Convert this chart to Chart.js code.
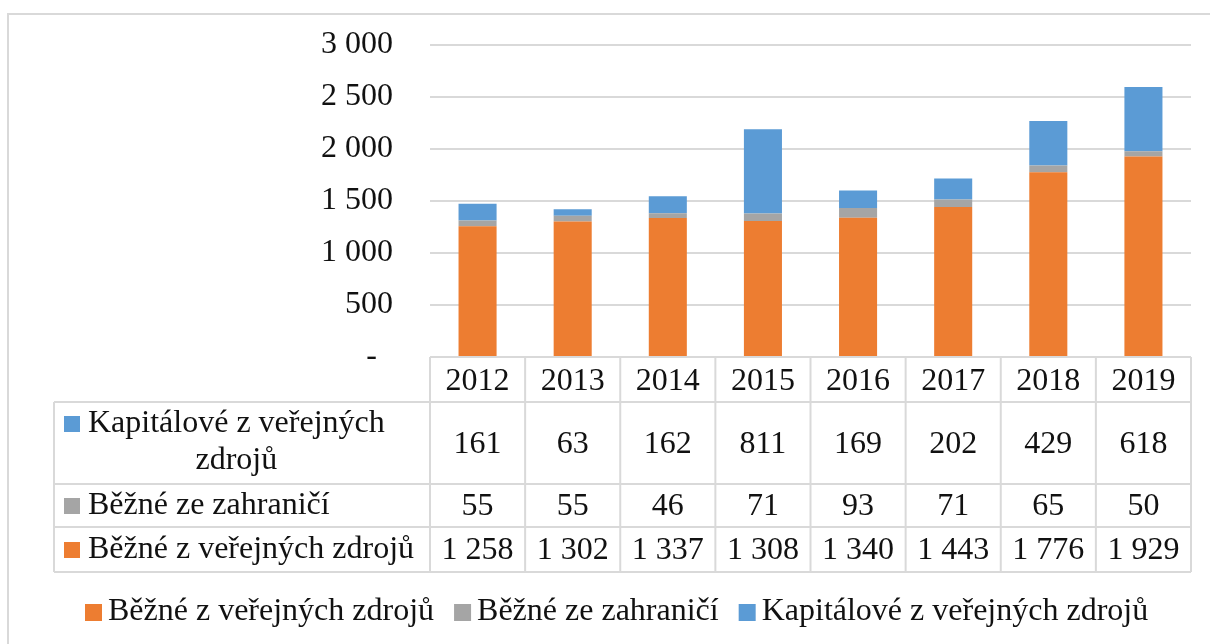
<!DOCTYPE html>
<html>
<head>
<meta charset="utf-8">
<script src="https://cdn.jsdelivr.net/npm/chart.js@4.4.0/dist/chart.umd.min.js"></script>
<style>
  body { margin: 0; background: #fff; }
  #wrap { width: 1210px; height: 644px; }
</style>
</head>
<body>
<div id="wrap"><canvas id="fundingChart" width="1210" height="644"></canvas></div>
<script>
const years = ['2012', '2013', '2014', '2015', '2016', '2017', '2018', '2019'];
const bezneVerejne = [1258, 1302, 1337, 1308, 1340, 1443, 1776, 1929];
const bezneZahranici = [55, 55, 46, 71, 93, 71, 65, 50];
const kapitalove = [161, 63, 162, 811, 169, 202, 429, 618];
const seriesLabels = ['Běžné z veřejných zdrojů', 'Běžné ze zahraničí', 'Kapitálové z veřejných zdrojů'];
const seriesColors = ['#ED7D31', '#A5A5A5', '#5B9BD5'];

const FONT_FAMILY = "'Liberation Serif', 'Times New Roman', serif";
const TEXT_COLOR = '#111';
const LINE_COLOR = '#d9d9d9';

// 1258 -> "1 258", 0 -> "-"
function fmt(n) {
    if (n === 0) return '-  ';
    return String(n).replace(/\B(?=(\d{3})+(?!\d))/g, ' ');
}

// wrap text into lines no wider than maxW
function wrapText(ctx, text, maxW) {
    const words = text.split(' ');
    const lines = [];
    let cur = '';
    words.forEach(w => {
        const test = cur ? cur + ' ' + w : w;
        if (ctx.measureText(test).width > maxW && cur) {
            lines.push(cur);
            cur = w;
        } else {
            cur = test;
        }
    });
    if (cur) lines.push(cur);
    return lines;
}

const tablePlugin = {
    id: 'dataTable',
    afterDraw(chart) {
        const ctx = chart.ctx;
        const xScale = chart.scales.x;
        const area = chart.chartArea;
        const colW = (area.right - area.left) / years.length;
        const tableLeft = 54;
        const headerTop = area.bottom;
        const rowLines = [402, 484, 527, 572];

        ctx.save();

        // outer frame
        ctx.strokeStyle = LINE_COLOR;
        ctx.lineWidth = 2;
        ctx.beginPath();
        ctx.moveTo(8, 644);
        ctx.lineTo(8, 14);
        ctx.lineTo(1210, 14);
        ctx.stroke();

        // table grid
        ctx.beginPath();
        ctx.moveTo(area.left, headerTop);
        ctx.lineTo(area.right, headerTop);
        rowLines.forEach(y => {
            ctx.moveTo(tableLeft, y);
            ctx.lineTo(area.right, y);
        });
        for (let k = 0; k <= years.length; k++) {
            const x = area.left + k * colW;
            ctx.moveTo(x, headerTop);
            ctx.lineTo(x, rowLines[rowLines.length - 1]);
        }
        ctx.moveTo(tableLeft, rowLines[0]);
        ctx.lineTo(tableLeft, rowLines[rowLines.length - 1]);
        ctx.stroke();

        ctx.font = '32px ' + FONT_FAMILY;
        ctx.fillStyle = TEXT_COLOR;
        ctx.textBaseline = 'alphabetic';

        // header row: years
        ctx.textAlign = 'center';
        years.forEach((yr, i) => {
            ctx.fillText(yr, xScale.getPixelForValue(i), 390);
        });

        // data rows, top row is the top of the stack
        const rows = [
            { label: seriesLabels[2], color: seriesColors[2], values: kapitalove, textY: 432, numY: 453 },
            { label: seriesLabels[1], color: seriesColors[1], values: bezneZahranici, textY: 514, numY: 515 },
            { label: seriesLabels[0], color: seriesColors[0], values: bezneVerejne, textY: 558, numY: 559 }
        ];
        const swatchX = 64;
        const textX = 88;
        rows.forEach(row => {
            ctx.fillStyle = row.color;
            ctx.fillRect(swatchX, row.textY - 16, 16, 16);
            ctx.fillStyle = TEXT_COLOR;
            const lines = wrapText(ctx, row.label, area.left - textX - 4);
            ctx.textAlign = 'left';
            ctx.fillText(lines[0], textX, row.textY);
            const firstW = ctx.measureText(lines[0]).width;
            ctx.textAlign = 'center';
            for (let l = 1; l < lines.length; l++) {
                ctx.fillText(lines[l], textX + firstW / 2, row.textY + 37 * l);
            }
            row.values.forEach((v, i) => {
                ctx.fillText(fmt(v), xScale.getPixelForValue(i), row.numY);
            });
        });

        // legend
        let lx = 85;
        const legendY = 620;
        ctx.textAlign = 'left';
        chart.data.datasets.forEach(ds => {
            ctx.fillStyle = ds.backgroundColor;
            ctx.fillRect(lx, legendY - 16, 17, 17);
            lx += 17 + 6;
            ctx.fillStyle = TEXT_COLOR;
            ctx.fillText(ds.label, lx, legendY);
            lx += ctx.measureText(ds.label).width + 20;
        });

        ctx.restore();
    }
};

const ctx = document.getElementById('fundingChart').getContext('2d');

const chartData = {
    labels: years,
    datasets: [
        {
            label: seriesLabels[0],
            data: bezneVerejne,
            backgroundColor: seriesColors[0],
            borderWidth: 0,
            barPercentage: 0.4,
            categoryPercentage: 1.0
        },
        {
            label: seriesLabels[1],
            data: bezneZahranici,
            backgroundColor: seriesColors[1],
            borderWidth: 0,
            barPercentage: 0.4,
            categoryPercentage: 1.0
        },
        {
            label: seriesLabels[2],
            data: kapitalove,
            backgroundColor: seriesColors[2],
            borderWidth: 0,
            barPercentage: 0.4,
            categoryPercentage: 1.0
        }
    ]
};

const chartOptions = {
    responsive: false,
    animation: false,
    layout: {
        padding: { top: 45, right: 19, bottom: 73, left: 0 }
    },
    plugins: {
        legend: { display: false },
        tooltip: { enabled: false }
    },
    scales: {
        x: {
            stacked: true,
            grid: { display: false, drawTicks: false },
            border: { display: false },
            ticks: { display: false },
            afterFit: function(scale) {
                scale.height = 214;
            }
        },
        y: {
            stacked: true,
            min: 0,
            max: 3000,
            ticks: {
                stepSize: 500,
                padding: 37,
                color: TEXT_COLOR,
                font: { family: FONT_FAMILY, size: 32 },
                callback: function(value) {
                    return fmt(value);
                }
            },
            grid: { color: LINE_COLOR, lineWidth: 2, drawTicks: false },
            border: { display: false },
            afterFit: function(scale) {
                scale.width = 430;
                scale.paddingTop = 0;
                scale.paddingBottom = 0;
            }
        }
    }
};

new Chart(ctx, {
    type: 'bar',
    data: chartData,
    options: chartOptions,
    plugins: [tablePlugin]
});
</script>
</body>
</html>
